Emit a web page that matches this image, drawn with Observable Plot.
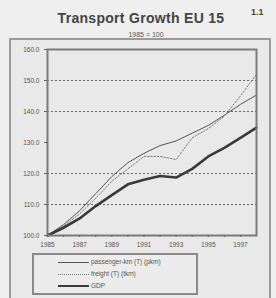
<!DOCTYPE html>
<html>
<head>
<meta charset="utf-8">
<script src="https://cdn.jsdelivr.net/npm/d3@7"></script>
<script src="https://cdn.jsdelivr.net/npm/@observablehq/plot@0.6"></script>
<style>
  html, body { margin: 0; padding: 0; }
  body { width: 276px; height: 298px; position: relative; background: #efefef; overflow: hidden;
         font-family: "Liberation Sans", Arial, sans-serif; color: #333; }
  #title { position: absolute; left: 0; width: 282px; top: 10px; text-align: center; font-weight: bold; font-size: 14px; letter-spacing: 0.3px; color: #444; }
  #num { position: absolute; left: 251px; top: 7px; font-weight: bold; font-size: 9px; color: #444; }
  #sub { position: absolute; left: 0; width: 292px; top: 31px; text-align: center; font-size: 7px; color: #555; }
  #panel { position: absolute; left: 9px; top: 38px; width: 258px; height: 258px; border: 2px solid #9a9a9a; background: #e9e9e9; }
  #chart { position: absolute; left: 10px; top: 40px; }
  #legend { position: absolute; left: 32px; top: 253px; width: 162px; height: 38px; border: 2px solid #8a8a8a; background: #ececec; }
  .row { position: absolute; left: 24px; height: 10px; font-size: 6.5px; color: #555; white-space: nowrap; }
  .sample { display: inline-block; width: 31px; vertical-align: middle; margin-right: 2px; }
</style>
</head>
<body>
<div id="title">Transport Growth EU 15</div>
<div id="num">1.1</div>
<div id="sub">1985 = 100</div>
<div id="panel"></div>
<div id="chart"></div>
<div id="legend"></div>
<script>
// ---- data ----
const years = [1985,1986,1987,1988,1989,1990,1991,1992,1993,1994,1995,1996,1997,1998];
const passenger = [100,103.5,108,113.5,119,123.5,126.5,129,130.5,133,135.5,138.8,142.3,145.3];
const freight   = [100,103,107,112,117.5,121.5,125.5,125.5,124.5,131.5,134.5,138.5,145,152];
const gdp       = [100,102.5,105.5,109.5,113,116.5,118,119.2,118.7,121.5,125.5,128.3,131.5,134.8];
const seriesNames = ["passenger-km (T) (pkm)", "freight (T) (tkm)", "GDP"];
const yTicks = [100,110,120,130,140,150,160];
const gridValues = [110,120,140,150];
const xTickYears = [1985,1986,1987,1988,1989,1990,1991,1992,1993,1994,1995,1996,1997];
const xLabelYears = [1985,1987,1989,1991,1993,1995,1997];

const styles = [
  {stroke: "#555", strokeWidth: 1, dash: null},
  {stroke: "#777", strokeWidth: 1, dash: "1.5,1.8"},
  {stroke: "#3a3a3a", strokeWidth: 2.6, dash: null}
];
const seriesValues = [passenger, freight, gdp];

const rows = [];
seriesValues.forEach((vals, s) => vals.forEach((v, i) => rows.push({year: years[i], value: v, series: seriesNames[s]})));

const lineMarks = seriesNames.map((name, s) =>
  Plot.line(rows.filter(d => d.series === name), {
    x: "year", y: "value",
    stroke: styles[s].stroke, strokeWidth: styles[s].strokeWidth,
    strokeDasharray: styles[s].dash
  })
);

const chart = Plot.plot({
  width: 258, height: 212,
  marginLeft: 37, marginRight: 12, marginTop: 9, marginBottom: 17,
  style: {background: "transparent", fontFamily: "Liberation Sans, Arial, sans-serif", color: "#555"},
  x: {domain: [1985, 1998]},
  y: {domain: [100, 160]},
  marks: [
    Plot.ruleY(gridValues, {stroke: "#666", strokeWidth: 1, strokeDasharray: "2,2"}),
    ...lineMarks,
    Plot.frame({stroke: "#7a7a7a", strokeWidth: 2}),
    Plot.axisY({ticks: yTicks, tickFormat: d3.format(".1f"), tickSize: 3, tickPadding: 5, fontSize: 6.5, label: null, stroke: "#666"}),
    Plot.axisX({ticks: xTickYears, tickFormat: d => xLabelYears.includes(d) ? String(d) : "", tickSize: 2, tickPadding: 5, fontSize: 6.5, label: null, stroke: "#666"})
  ]
});
document.getElementById("chart").appendChild(chart);

// legend
const legend = document.getElementById("legend");
seriesNames.forEach((name, s) => {
  const row = document.createElement("div");
  row.className = "row";
  row.style.top = (3 + s * 12) + "px";
  const sample = document.createElement("span");
  sample.className = "sample";
  const st = styles[s];
  sample.style.borderTop = st.strokeWidth + "px " + (st.dash ? "dotted" : "solid") + " " + st.stroke;
  row.appendChild(sample);
  row.appendChild(document.createTextNode(name));
  legend.appendChild(row);
});
</script>
</body>
</html>
